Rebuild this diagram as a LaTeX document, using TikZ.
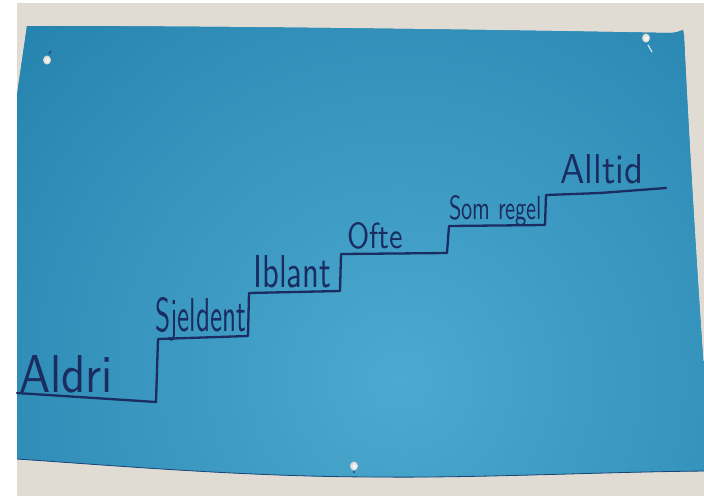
\documentclass[tikz,border=0pt]{standalone}
\usepackage{graphicx}
\definecolor{wall}{RGB}{224,220,212}
\definecolor{paperout}{RGB}{34,128,172}
\definecolor{paperin}{RGB}{76,170,208}
\definecolor{ink}{RGB}{26,44,96}
\definecolor{pin}{RGB}{238,234,224}
\tikzset{
  word/.style={inner sep=0pt,anchor=base west,text=ink,font=\sffamily},
  stair/.style={draw=ink,line width=2.3pt,line join=round,line cap=round},
  pinhead/.style={inner color=white,outer color=pin!80!gray}
}
\newcommand{\hw}[3]{\resizebox{#1pt}{#2pt}{#3}}
\begin{document}
\begin{tikzpicture}[x=1pt,y=-1pt]
\useasboundingbox (0,0) rectangle (704,496);
% wall
\fill[wall] (0,0) rectangle (704,496);
\fill[white] (0,0) rectangle (17,496);
\fill[white] (17,0) rectangle (704,3);
% paper
\def\paperpath{(27,26) .. controls (200,26) and (450,29) .. (670,33)
  .. controls (676,33) and (680,31) .. (683,30) -- (684,36)
  .. controls (688,120) and (696,260) .. (706,400) -- (706,471)
  .. controls (600,472) and (480,478) .. (380,477)
  .. controls (250,477) and (120,466) .. (17,459) -- (17,95) -- cycle}
\begin{scope}
\clip \paperpath;
\fill[paperout] (0,0) rectangle (704,496);
\shade[inner color=paperin,outer color=paperout] (400,380) circle (560);
\end{scope}
\draw[ink!70!paperout,line width=0.8pt] (706,471)
  .. controls (600,472) and (480,478) .. (380,477)
  .. controls (250,477) and (120,466) .. (17,459);
% pins
\shade[pinhead] (47,60) ellipse (4 and 4.5);
\draw[ink,line width=0.8pt] (49,54) -- (51,51);
\shade[pinhead] (646,38) ellipse (4 and 4.5);
\draw[white!90!paperin,line width=1pt,line cap=round] (648,45) -- (652,52);
\shade[pinhead] (354,466) ellipse (4 and 4.5);
\fill[ink!60!black] (354,472) circle (0.8);
% staircase
\coordinate (s0) at (17,393);
\coordinate (s1) at (156,402);
\coordinate (s2) at (158,339);
\coordinate (s3) at (248,336);
\coordinate (s4) at (249,293);
\coordinate (s5) at (340,291);
\coordinate (s6) at (341,254);
\coordinate (s7) at (447,253);
\coordinate (s8) at (449,226);
\coordinate (s9) at (545,225);
\coordinate (s10) at (546,195);
\coordinate (s11) at (600,193);
\coordinate (s12) at (666,188);
\draw[stair] (s0) -- (s1) -- (s2) -- (s3) -- (s4) -- (s5) -- (s6) -- (s7)
  -- (s8) -- (s9) -- (s10) -- (s11) -- (s12);
% words
\node[word] (aldri) at (19,392) {\hw{94}{37}{Aldri}};
\node[word] (sjeldent) at (155,331) {\hw{91}{34}{Sjeldent}};
\node[word] (iblant) at (253,287) {\hw{78}{32}{Iblant}};
\node[word] (ofte) at (347,248) {\hw{56}{26}{Ofte}};
\node[word] (somregel) at (449,219) {\hw{93}{24}{Som regel}};
\node[word] (alltid) at (560,183) {\hw{83}{29}{Alltid}};
\end{tikzpicture}
\end{document}
